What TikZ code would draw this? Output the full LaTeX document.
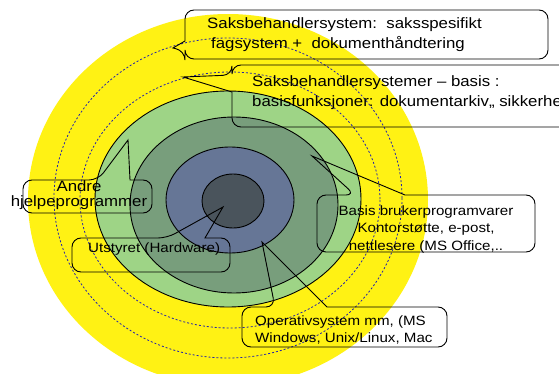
\documentclass[tikz,border=0pt]{standalone}
\usepackage{fontspec}
\setmainfont{Liberation Sans}[FakeStretch=1.12]
\usepackage{xcolor}
\usepackage{tikz}

\definecolor{ringyellow}{RGB}{255,242,20}
\definecolor{ringgreen}{RGB}{158,212,134}
\definecolor{ringteal}{RGB}{120,158,124}
\definecolor{ringblue}{RGB}{102,118,150}
\definecolor{ringcore}{RGB}{74,84,92}
\definecolor{ringdash}{RGB}{35,35,170}

\tikzset{
  ring/.style={draw=black, line width=0.9pt},
  dashring/.style={draw=ringdash, line width=0.8pt, dash pattern=on 2pt off 2pt},
  callout/.style={draw=black, line width=0.9pt, rounded corners=9pt},
  calltext/.style={inner sep=0pt, font=\fontsize{15}{17}\selectfont},
  calltextsmall/.style={inner sep=0pt, font=\fontsize{13.5}{16}\selectfont}
}

\begin{document}
\begin{tikzpicture}[x=1pt, y=-1pt]
  \clip (0,0) rectangle (559,374);
  \fill[white] (0,0) rectangle (559,374);

  % Layers, outside in
  \fill[ringyellow] (228,200) ellipse [x radius=200, y radius=186];
  \draw[dashring] (228,198) ellipse [x radius=174, y radius=160];
  \draw[dashring] (230,200) ellipse [x radius=150, y radius=128];
  \filldraw[ring, fill=ringgreen] (228,199) ellipse [x radius=133, y radius=108];
  \filldraw[ring, fill=ringteal] (234,205) ellipse [x radius=104, y radius=88];
  \filldraw[ring, fill=ringblue] (230,200) ellipse [x radius=64, y radius=53];
  \filldraw[ring, fill=ringcore] (233,201) ellipse [x radius=31, y radius=27];

  % Pointer tips
  \coordinate (tipTop) at (173,48);
  \coordinate (tipBasis) at (183,77);
  \coordinate (tipAndre) at (128,140);
  \coordinate (tipHw) at (223,207);
  \coordinate (tipApps) at (312,156);
  \coordinate (tipOs) at (262,242);

  % Callout outlines
  \draw[callout] (360,10) -- (548,10) -- (548,59) -- (185,59) -- (185,51)
    [sharp corners] -- (tipTop) -- (185,41) [rounded corners=9pt] -- (185,10) -- cycle;
  \draw[callout] (620,65) -- (232,65) -- (232,75)
    [sharp corners] -- (tipBasis) -- (232,92) [rounded corners=9pt] -- (232,127) -- (620,127);
  \draw[callout] (60,180) -- (98,180)
    [sharp corners] -- (tipAndre) -- (130,180) [rounded corners=9pt] -- (152,180) -- (152,213) -- (23,213) -- (23,180) -- cycle;
  \draw[callout] (120,238) -- (167,238)
    [sharp corners] -- (tipHw) -- (205,238) [rounded corners=9pt] -- (230,238) -- (230,272) -- (72,272) -- (72,238) -- cycle;
  \draw[callout] (460,195) -- (535,195) -- (535,252) -- (317,252) -- (317,195) -- (355,195)
    [sharp corners] -- (tipApps) -- (405,195) [rounded corners=9pt] -- cycle;
  \draw[callout] (400,307) -- (447,307) -- (447,347) -- (242,347) -- (242,307) -- (275,307)
    [sharp corners] -- (tipOs) -- (327,307) [rounded corners=9pt] -- cycle;

  % Texts
  \node[calltext, anchor=base west] (topA) at (207,29) {Saksbehandlersystem:\ \ saksspesifikt};
  \node[calltext, anchor=base west] (topB) at (211,49) {fagsystem +\ \ dokumenthåndtering};
  \node[calltext, anchor=base west] (basisA) at (252,87) {Saksbehandlersystemer – basis :};
  \node[calltext, anchor=base west] (basisB) at (252,107) {basisfunksjoner: dokumentarkiv,, sikkerhet};
  \node[calltext, anchor=base] (andreA) at (79,192) {Andre};
  \node[calltext, anchor=base] (andreB) at (79,206) {hjelpeprogrammer};
  \node[calltextsmall, anchor=base west] (hw) at (88,252) {Utstyret (Hardware)};
  \node[calltextsmall, anchor=base] (appsA) at (426,215) {Basis brukerprogramvarer};
  \node[calltextsmall, anchor=base] (appsB) at (426,232) {Kontorstøtte, e-post,};
  \node[calltextsmall, anchor=base] (appsC) at (426,250) {nettlesere (MS Office,..};
  \node[calltextsmall, anchor=base west] (osA) at (255,325) {Operativsystem mm, (MS};
  \node[calltextsmall, anchor=base west] (osB) at (255,342) {Windows, Unix/Linux, Mac};
\end{tikzpicture}
\end{document}
